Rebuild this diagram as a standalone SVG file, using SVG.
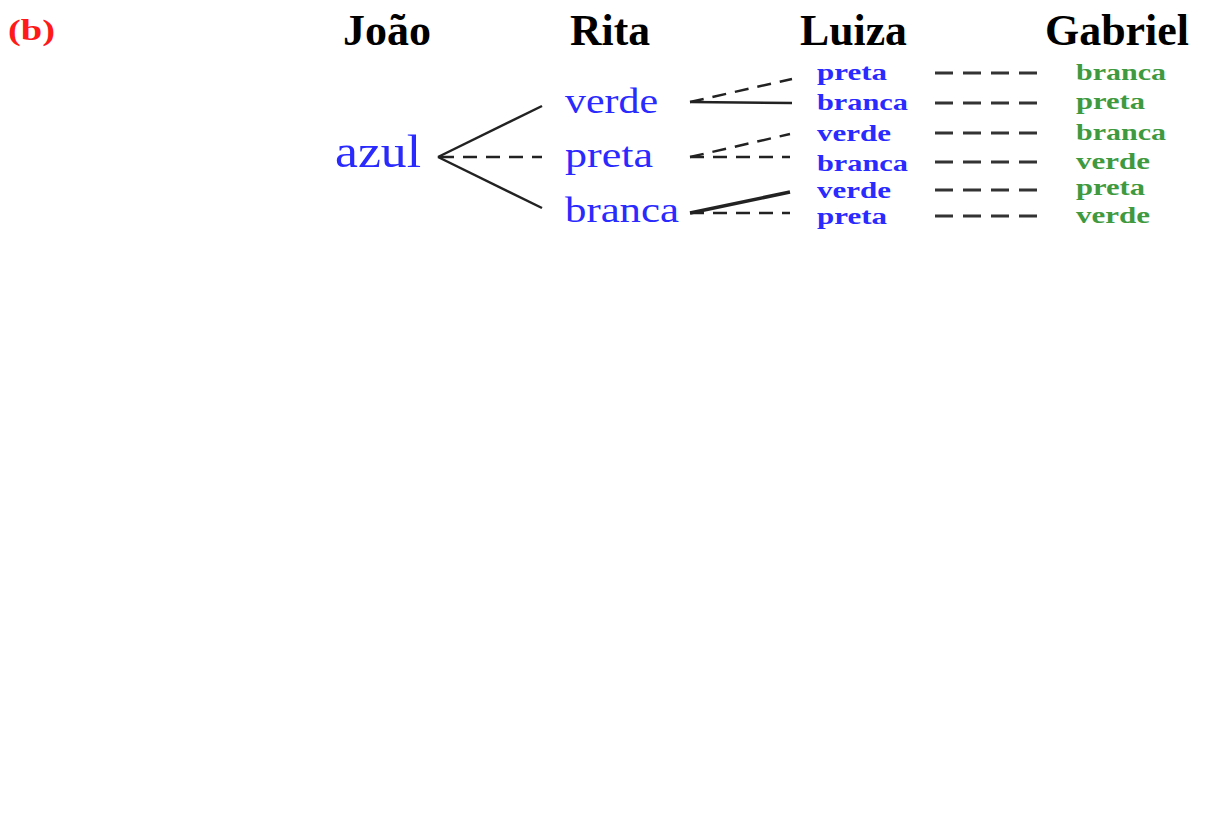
<svg xmlns="http://www.w3.org/2000/svg" width="1208" height="814" viewBox="0 0 1208 814">
<style>
.hd{font-family:"Liberation Serif",serif;font-weight:bold;font-size:44px;fill:#000}
.lab{font-family:"Liberation Serif",serif;font-weight:bold;font-size:30px;fill:#ff1a1a}
.big{font-family:"Liberation Serif",serif;font-size:47px;fill:#2a2aff}
.mid{font-family:"Liberation Serif",serif;font-size:36px;fill:#2a2aff}
.sm{font-family:"Liberation Serif",serif;font-weight:bold;font-size:24px;fill:#2a2aff}
.gr{font-family:"Liberation Serif",serif;font-weight:bold;font-size:24px;fill:#3f9a3f}
.s{stroke:#222;stroke-width:2.5;fill:none}
.d{stroke:#222;stroke-width:2.5;fill:none;stroke-dasharray:14 9}
.dg{stroke:#333;stroke-width:3;fill:none;stroke-dasharray:18 10}
</style>
<rect width="1208" height="814" fill="#fff"/>
<text class="lab" x="8" y="40" textLength="47" lengthAdjust="spacingAndGlyphs">(b)</text>
<g id="headers">
<text class="hd" x="343" y="45" textLength="88" lengthAdjust="spacingAndGlyphs">João</text>
<text class="hd" x="570" y="45" textLength="80" lengthAdjust="spacingAndGlyphs">Rita</text>
<text class="hd" x="800" y="45" textLength="107" lengthAdjust="spacingAndGlyphs">Luiza</text>
<text class="hd" x="1045" y="45" textLength="144" lengthAdjust="spacingAndGlyphs">Gabriel</text>
</g>
<g id="connectors">
<path class="s" d="M438,157 L542,106"/>
<path class="s" d="M438,157 L542,208"/>
<path class="d" d="M440,157 L542,157"/>
<path class="d" d="M690,102 L792,79"/>
<path class="s" d="M690,102 L792,103"/>
<path class="d" d="M690,157 L790,134"/>
<path class="d" d="M690,157 L790,157"/>
<path class="s" d="M690,213 L790,192" style="stroke-width:3.5"/>
<path class="d" d="M690,213 L790,213"/>
<path class="dg" d="M935,73 L1037,73"/>
<path class="dg" d="M935,103 L1037,103"/>
<path class="dg" d="M935,133 L1037,133"/>
<path class="dg" d="M935,162 L1037,162"/>
<path class="dg" d="M935,190 L1037,190"/>
<path class="dg" d="M935,216 L1037,216"/>
</g>
<g id="node-azul"><text class="big" x="335" y="167" textLength="86" lengthAdjust="spacingAndGlyphs">azul</text></g>
<g id="node-rita-verde"><text class="mid" x="565" y="113" textLength="93" lengthAdjust="spacingAndGlyphs">verde</text></g>
<g id="node-rita-preta"><text class="mid" x="565" y="167" textLength="88" lengthAdjust="spacingAndGlyphs">preta</text></g>
<g id="node-rita-branca"><text class="mid" x="565" y="222" textLength="114" lengthAdjust="spacingAndGlyphs">branca</text></g>
<g id="node-luiza-1"><text class="sm" x="817" y="80" textLength="70" lengthAdjust="spacingAndGlyphs">preta</text></g>
<g id="node-luiza-2"><text class="sm" x="817" y="110" textLength="91" lengthAdjust="spacingAndGlyphs">branca</text></g>
<g id="node-luiza-3"><text class="sm" x="817" y="141" textLength="74" lengthAdjust="spacingAndGlyphs">verde</text></g>
<g id="node-luiza-4"><text class="sm" x="817" y="171" textLength="91" lengthAdjust="spacingAndGlyphs">branca</text></g>
<g id="node-luiza-5"><text class="sm" x="817" y="198" textLength="74" lengthAdjust="spacingAndGlyphs">verde</text></g>
<g id="node-luiza-6"><text class="sm" x="817" y="224" textLength="70" lengthAdjust="spacingAndGlyphs">preta</text></g>
<g id="node-gabriel-1"><text class="gr" x="1076" y="80" textLength="90" lengthAdjust="spacingAndGlyphs">branca</text></g>
<g id="node-gabriel-2"><text class="gr" x="1076" y="109" textLength="69" lengthAdjust="spacingAndGlyphs">preta</text></g>
<g id="node-gabriel-3"><text class="gr" x="1076" y="140" textLength="90" lengthAdjust="spacingAndGlyphs">branca</text></g>
<g id="node-gabriel-4"><text class="gr" x="1076" y="169" textLength="74" lengthAdjust="spacingAndGlyphs">verde</text></g>
<g id="node-gabriel-5"><text class="gr" x="1076" y="195" textLength="69" lengthAdjust="spacingAndGlyphs">preta</text></g>
<g id="node-gabriel-6"><text class="gr" x="1076" y="223" textLength="74" lengthAdjust="spacingAndGlyphs">verde</text></g>
</svg>
